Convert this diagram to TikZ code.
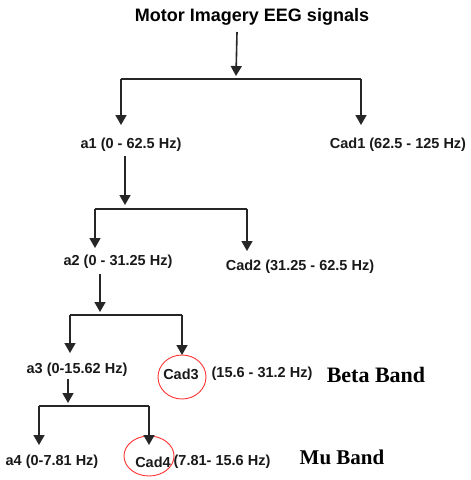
\documentclass[tikz,border=0pt]{standalone}
\usepackage{fontspec}
\setmainfont{Liberation Sans}
\newfontfamily\serifbold{Liberation Serif}
\usetikzlibrary{arrows.meta}
\begin{document}
\begin{tikzpicture}[x=1pt,y=-1pt,
  lbl/.style={font=\fontsize{14.5}{16}\selectfont\bfseries, inner sep=0pt, text=black!90},
  band/.style={font=\fontsize{22}{24}\selectfont\serifbold\bfseries, inner sep=0pt},
  ln/.style={line width=1.6pt, draw=black!85},
  arr/.style={ln, -{Triangle[width=11pt,length=10pt]}},
  ring/.style={draw=red!80!white, line width=0.9pt}]
\useasboundingbox (0,0) rectangle (471,480);
% nodes
\node[font=\fontsize{18}{20}\selectfont\bfseries, inner sep=0pt] (title) at (252,17) {Motor Imagery EEG signals};
\node[lbl] (a1) at (131,145) {a1 (0 - 62.5 Hz)};
\node[lbl] (cad1) at (398,145) {Cad1 (62.5 - 125 Hz)};
\node[lbl] (a2) at (118,262) {a2 (0 - 31.25 Hz)};
\node[lbl] (cad2) at (300,267) {Cad2 (31.25 - 62.5 Hz)};
\node[lbl] (a3) at (77,370) {a3 (0-15.62 Hz)};
\node[lbl] (cad3) at (181,374) {Cad3};
\node[lbl] (cad3r) at (262,374) {(15.6 - 31.2 Hz)};
\node[band] (beta) at (376,375) {Beta Band};
\node[lbl] (a4) at (52,462) {a4 (0-7.81 Hz)};
\node[lbl] (cad4) at (153,462) {Cad4};
\node[lbl] (cad4r) at (222,462) {(7.81- 15.6 Hz)};
\node[band, font=\fontsize{21}{23}\selectfont\serifbold\bfseries] (mu) at (342,457) {Mu Band};
% rings
\draw[ring] (182,377) ellipse [x radius=24, y radius=22];
\draw[ring] (149,456) ellipse [x radius=25, y radius=20];
% junction coordinates
\coordinate (s0) at (237,32);
\coordinate (e0) at (236,76);
\coordinate (l1) at (121,79);
\coordinate (r1) at (361,79);
\coordinate (s1) at (125,156);
\coordinate (e1) at (125,205);
\coordinate (l2) at (95,209);
\coordinate (r2) at (247,209);
\coordinate (s2) at (100,274);
\coordinate (e2) at (100,312);
\coordinate (l3) at (70,315);
\coordinate (r3) at (182,315);
\coordinate (s3) at (68,379);
\coordinate (e3) at (68,403);
\coordinate (l4) at (39,406);
\coordinate (r4) at (149,406);
% connectors
\draw[arr] (s0) -- (e0);
\draw[ln] (l1) -- (r1);
\draw[arr] (l1) -- (121,125);
\draw[arr] (r1) -- (361,125);
\draw[arr] (s1) -- (e1);
\draw[ln] (l2) -- (r2);
\draw[arr] (l2) -- (95,248);
\draw[arr] (r2) -- (247,251);
\draw[arr] (s2) -- (e2);
\draw[ln] (l3) -- (r3);
\draw[arr] (l3) -- (70,353);
\draw[arr] (r3) -- (182,355);
\draw[arr] (s3) -- (e3);
\draw[ln] (l4) -- (r4);
\draw[arr] (l4) -- (39,445);
\draw[arr] (r4) -- (149,445);
\end{tikzpicture}
\end{document}
